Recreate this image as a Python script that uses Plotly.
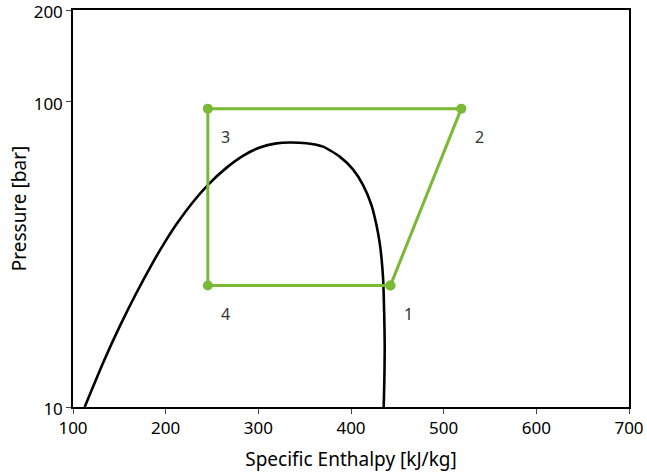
import plotly.graph_objects as go
import math

# Saturation dome
dome_h = [112.6, 132.4, 150.4, 168.4, 186.3, 199.0, 211.6, 229.5, 245.7, 265.5, 283.4,
          301.5, 319.5, 333.8, 351.9, 369.8, 387.8, 402.1, 412.9, 422.0, 427.4, 431.0,
          433.1, 434.7, 435.8, 436.4, 436.0, 435.3]
dome_p = [10.0, 13.94, 18.37, 23.64, 29.80, 34.62, 39.68, 46.98, 53.48, 60.76, 66.52,
          70.84, 73.12, 73.62, 73.17, 71.32, 66.16, 60.08, 53.45, 45.96, 39.54, 34.43,
          30.36, 26.12, 20.37, 15.79, 12.28, 10.0]

# Cycle points
cycle_labels = ["1", "2", "3", "4"]
cycle_h = [442.5, 519.0, 245.5, 245.5]
cycle_p = [25.0, 95.0, 95.0, 25.0]

green = "#79b935"

fig = go.Figure()
fig.add_trace(go.Scatter(x=dome_h, y=dome_p, mode="lines",
                         line=dict(color="black", width=2.6, shape="spline", smoothing=0.6),
                         showlegend=False, hoverinfo="skip"))
fig.add_trace(go.Scatter(x=cycle_h + [cycle_h[0]], y=cycle_p + [cycle_p[0]],
                         mode="lines+markers",
                         line=dict(color=green, width=3),
                         marker=dict(color=green, size=10),
                         showlegend=False))

for lab, h, p in zip(cycle_labels, cycle_h, cycle_p):
    fig.add_annotation(x=h, y=math.log10(p), text=lab, showarrow=False,
                       xshift=18, yshift=-28,
                       font=dict(size=16, color="#333333", family="Noto Sans"))

axis_font = dict(family="Noto Sans", size=17, color="black")
fig.update_layout(
    width=647, height=476,
    margin=dict(l=73, r=18, t=10, b=69),
    plot_bgcolor="white", paper_bgcolor="white",
    font=dict(family="Noto Sans", color="black"),
    xaxis=dict(range=[100, 700], tickvals=[100, 200, 300, 400, 500, 600, 700],
               showgrid=False, zeroline=False, showline=True, linecolor="black",
               linewidth=1.5, mirror=True, ticks="outside", ticklen=5, tickcolor="#444",
               tickfont=axis_font, automargin=False, ticklabeloverflow="allow",
               title=dict(text="Specific Enthalpy [kJ/kg]", font=dict(size=19, family="Noto Sans"),
                          standoff=15)),
    yaxis=dict(type="log", range=[1, math.log10(200)], tickvals=[10, 100, 200],
               ticktext=["10", "100", "200"],
               showgrid=False, zeroline=False, showline=True, linecolor="black",
               linewidth=1.5, mirror=True, ticks="outside", ticklen=5, tickcolor="#444",
               tickfont=axis_font, automargin=False, ticklabeloverflow="allow",
               ticklabelshift=2,
               title=dict(text="Pressure [bar]", font=dict(size=19, family="Noto Sans"),
                          standoff=2)),
)

fig.write_html("out.html")
